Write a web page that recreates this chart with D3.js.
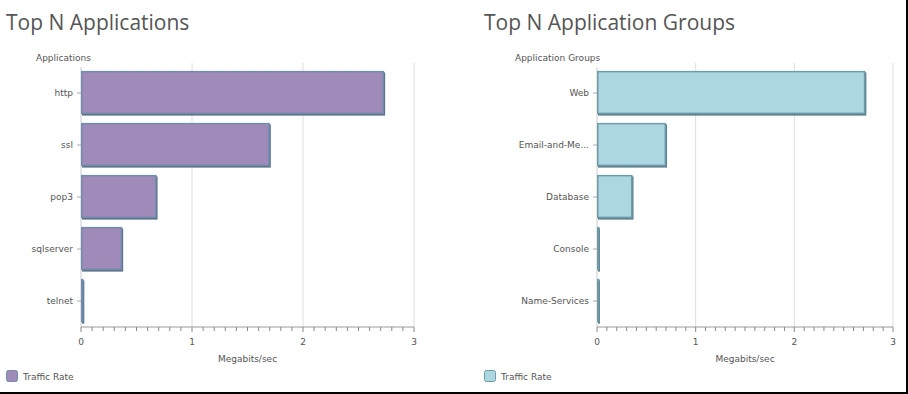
<!DOCTYPE html>
<html>
<head>
<meta charset="utf-8">
<script src="https://cdn.jsdelivr.net/npm/d3@7"></script>
<style>
  body { margin: 0; background: #fff; }
  svg text { font-family: "DejaVu Sans", sans-serif; }
</style>
</head>
<body>
<svg id="chart" width="908" height="394"></svg>
<script>
const appNames = ['http', 'ssl', 'pop3', 'sqlserver', 'telnet'];
const appRates = [2.74, 1.71, 0.69, 0.38, 0.03];

const groupNames = ['Web', 'Email-and-Me...', 'Database', 'Console', 'Name-Services'];
const groupRates = [2.73, 0.71, 0.37, 0.03, 0.02];

const xTicks = [0, 1, 2, 3];
const xMinorTicks = d3.range(0, 31).map(i => i / 10);

const svg = d3.select('#chart');

function barPanel(opts) {
    const data = opts.names.map((n, i) => ({ name: n, value: opts.values[i] }));
    const top = 67, innerHeight = 260;

    const panel = svg.append('g')
        .attr('transform', `translate(${opts.left}, 0)`);

    panel.append('text')
        .attr('x', opts.titleX - opts.left)
        .attr('y', 30)
        .attr('fill', '#555')
        .style('font-family', '"Open Sans", sans-serif')
        .style('font-size', '21px')
        .text(opts.title);

    panel.append('text')
        .attr('x', opts.yTitleX - opts.left)
        .attr('y', 61)
        .attr('fill', '#555')
        .style('font-size', '9px')
        .text(opts.yTitle);

    const xScale = d3.scaleLinear()
        .domain([0, 3])
        .range([0, opts.width]);

    const yScale = d3.scaleBand()
        .domain(opts.names)
        .range([0, innerHeight])
        .paddingInner(0.15)
        .paddingOuter(0.075);

    const g = panel.append('g')
        .attr('transform', `translate(0, ${top})`);

    // grid
    g.selectAll('.grid').data(xTicks.slice(1))
        .enter().append('line')
        .attr('x1', d => xScale(d)).attr('x2', d => xScale(d))
        .attr('y1', -4).attr('y2', innerHeight)
        .attr('stroke', '#dedede');

    // y axis
    const yAxis = d3.axisLeft(yScale)
        .tickSize(4)
        .tickPadding(4);
    const yAxisG = g.append('g').call(yAxis);
    yAxisG.select('.domain').attr('stroke', '#ccc').attr('d', `M0,0V${innerHeight}`);
    yAxisG.selectAll('line').attr('stroke', '#aaa');
    yAxisG.selectAll('text')
        .attr('fill', '#555')
        .style('font-size', '9px');

    // bars: shadow then body
    g.selectAll('.shadow').data(data)
        .enter().append('rect')
        .attr('x', 1)
        .attr('y', d => yScale(d.name) + 1.5)
        .attr('width', d => Math.max(xScale(d.value) - 1, 2))
        .attr('height', yScale.bandwidth() - 1)
        .attr('fill', opts.shadow);

    g.selectAll('.bar').data(data)
        .enter().append('rect')
        .attr('x', 0.75)
        .attr('y', d => yScale(d.name) + 0.75)
        .attr('width', d => Math.max(xScale(d.value) - 2.5, 1))
        .attr('height', yScale.bandwidth() - 2.5)
        .attr('fill', opts.fill)
        .attr('stroke', opts.stroke)
        .attr('stroke-width', 1.5);

    // x axis
    const xAxisG = g.append('g')
        .attr('transform', `translate(0, ${innerHeight})`);
    xAxisG.append('line')
        .attr('x1', 0).attr('x2', opts.width)
        .attr('stroke', '#999');
    xAxisG.selectAll('.minor').data(xMinorTicks)
        .enter().append('line')
        .attr('x1', d => xScale(d)).attr('x2', d => xScale(d))
        .attr('y1', 0).attr('y2', d => Number.isInteger(d) ? 5 : 4)
        .attr('stroke', '#888');
    xAxisG.selectAll('.tickLabel').data(xTicks)
        .enter().append('text')
        .attr('x', d => xScale(d))
        .attr('y', 18)
        .attr('text-anchor', 'middle')
        .attr('fill', '#555')
        .style('font-size', '9px')
        .text(d => d);
    xAxisG.append('text')
        .attr('x', opts.width / 2)
        .attr('y', 35)
        .attr('text-anchor', 'middle')
        .attr('fill', '#555')
        .style('font-size', '9px')
        .text('Megabits/sec');

    // legend
    const lg = panel.append('g')
        .attr('transform', `translate(${opts.titleX - opts.left}, 370)`);
    lg.append('rect')
        .attr('x', 0.5).attr('y', 0.5)
        .attr('width', 11).attr('height', 11)
        .attr('rx', 2)
        .attr('fill', opts.fill)
        .attr('stroke', opts.stroke);
    lg.append('text')
        .attr('x', 17)
        .attr('y', 9.5)
        .attr('fill', '#555')
        .style('font-size', '9px')
        .text('Traffic Rate');
}

barPanel({
    left: 81, width: 333, titleX: 6, yTitleX: 36,
    title: 'Top N Applications', yTitle: 'Applications',
    names: appNames, values: appRates,
    fill: '#9f8aba', stroke: '#6f8dab', shadow: '#5d7189'
});

barPanel({
    left: 597, width: 296, titleX: 484, yTitleX: 515,
    title: 'Top N Application Groups', yTitle: 'Application Groups',
    names: groupNames, values: groupRates,
    fill: '#acd7e1', stroke: '#6f9aa9', shadow: '#5c7f8b'
});

// frame edges
svg.append('line')
    .attr('x1', 907).attr('x2', 907).attr('y1', 0).attr('y2', 394)
    .attr('stroke', '#000').attr('stroke-width', 2);
svg.append('line')
    .attr('x1', 0).attr('x2', 908).attr('y1', 393).attr('y2', 393)
    .attr('stroke', '#000').attr('stroke-width', 2);
</script>
</body>
</html>
